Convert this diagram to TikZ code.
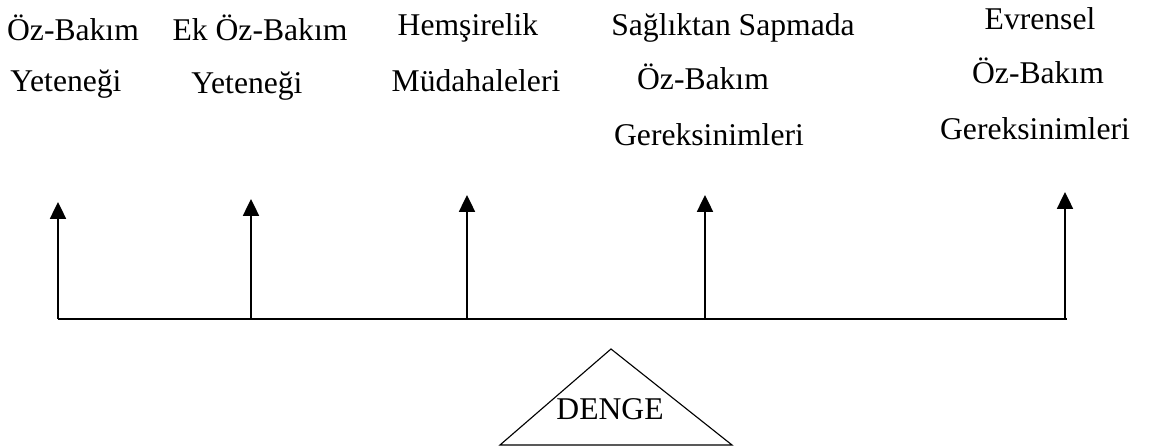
\documentclass[tikz,border=0pt]{standalone}
\usepackage{fontspec}
\setmainfont{Liberation Serif}
\usetikzlibrary{arrows.meta,calc,positioning}

\begin{document}
\begin{tikzpicture}[
		lbl/.style = {anchor=base, inner sep=0pt, font=\fontsize{22.5pt}{27pt}\selectfont},
		uparrow/.style = {line width=1.2pt, -{Triangle[length=0.42cm, width=0.4cm]}}
	]
		\useasboundingbox (0,0) rectangle (28.85,11.2);

		% labels
		\node[lbl] (a1) at (1.825,10.175) {Öz-Bakım};
		\node[lbl] (a2) at (1.65,8.9)     {Yeteneği};
		\node[lbl] (b1) at (6.5,10.175)   {Ek Öz-Bakım};
		\node[lbl] (b2) at (6.175,8.85)   {Yeteneği};
		\node[lbl] (c1) at (11.7,10.3)    {Hemşirelik};
		\node[lbl] (c2) at (11.9,8.9)     {Müdahaleleri};
		\node[lbl] (d1) at (18.325,10.3)  {Sağlıktan Sapmada};
		\node[lbl] (d2) at (17.575,8.95)  {Öz-Bakım};
		\node[lbl] (d3) at (17.725,7.55)  {Gereksinimleri};
		\node[lbl] (e1) at (26.0,10.45)   {Evrensel};
		\node[lbl] (e2) at (25.95,9.1)    {Öz-Bakım};
		\node[lbl] (e3) at (25.875,7.72)  {Gereksinimleri};

		% beam
		\coordinate (bl) at (1.45,3.22);
		\coordinate (br) at (26.675,3.22);
		\draw[line width=1.3pt] (bl) -- (br);

		% arrows
		\coordinate (ta) at (1.45,6.15);
		\coordinate (tb) at (6.275,6.225);
		\coordinate (tc) at (11.675,6.325);
		\coordinate (td) at (17.625,6.325);
		\coordinate (te) at (26.625,6.4);
		\foreach \t in {ta,tb,tc,td,te}
			\draw[uparrow] (bl -| \t) -- (\t);

		% balance
		\coordinate (apex) at (15.275,2.475);
		\draw[line width=0.8pt] (12.5,0.075) -- (apex) -- (18.3,0.075) -- cycle;
		\node[lbl] (denge) at (15.25,0.7) {DENGE};
	\end{tikzpicture}
\end{document}
